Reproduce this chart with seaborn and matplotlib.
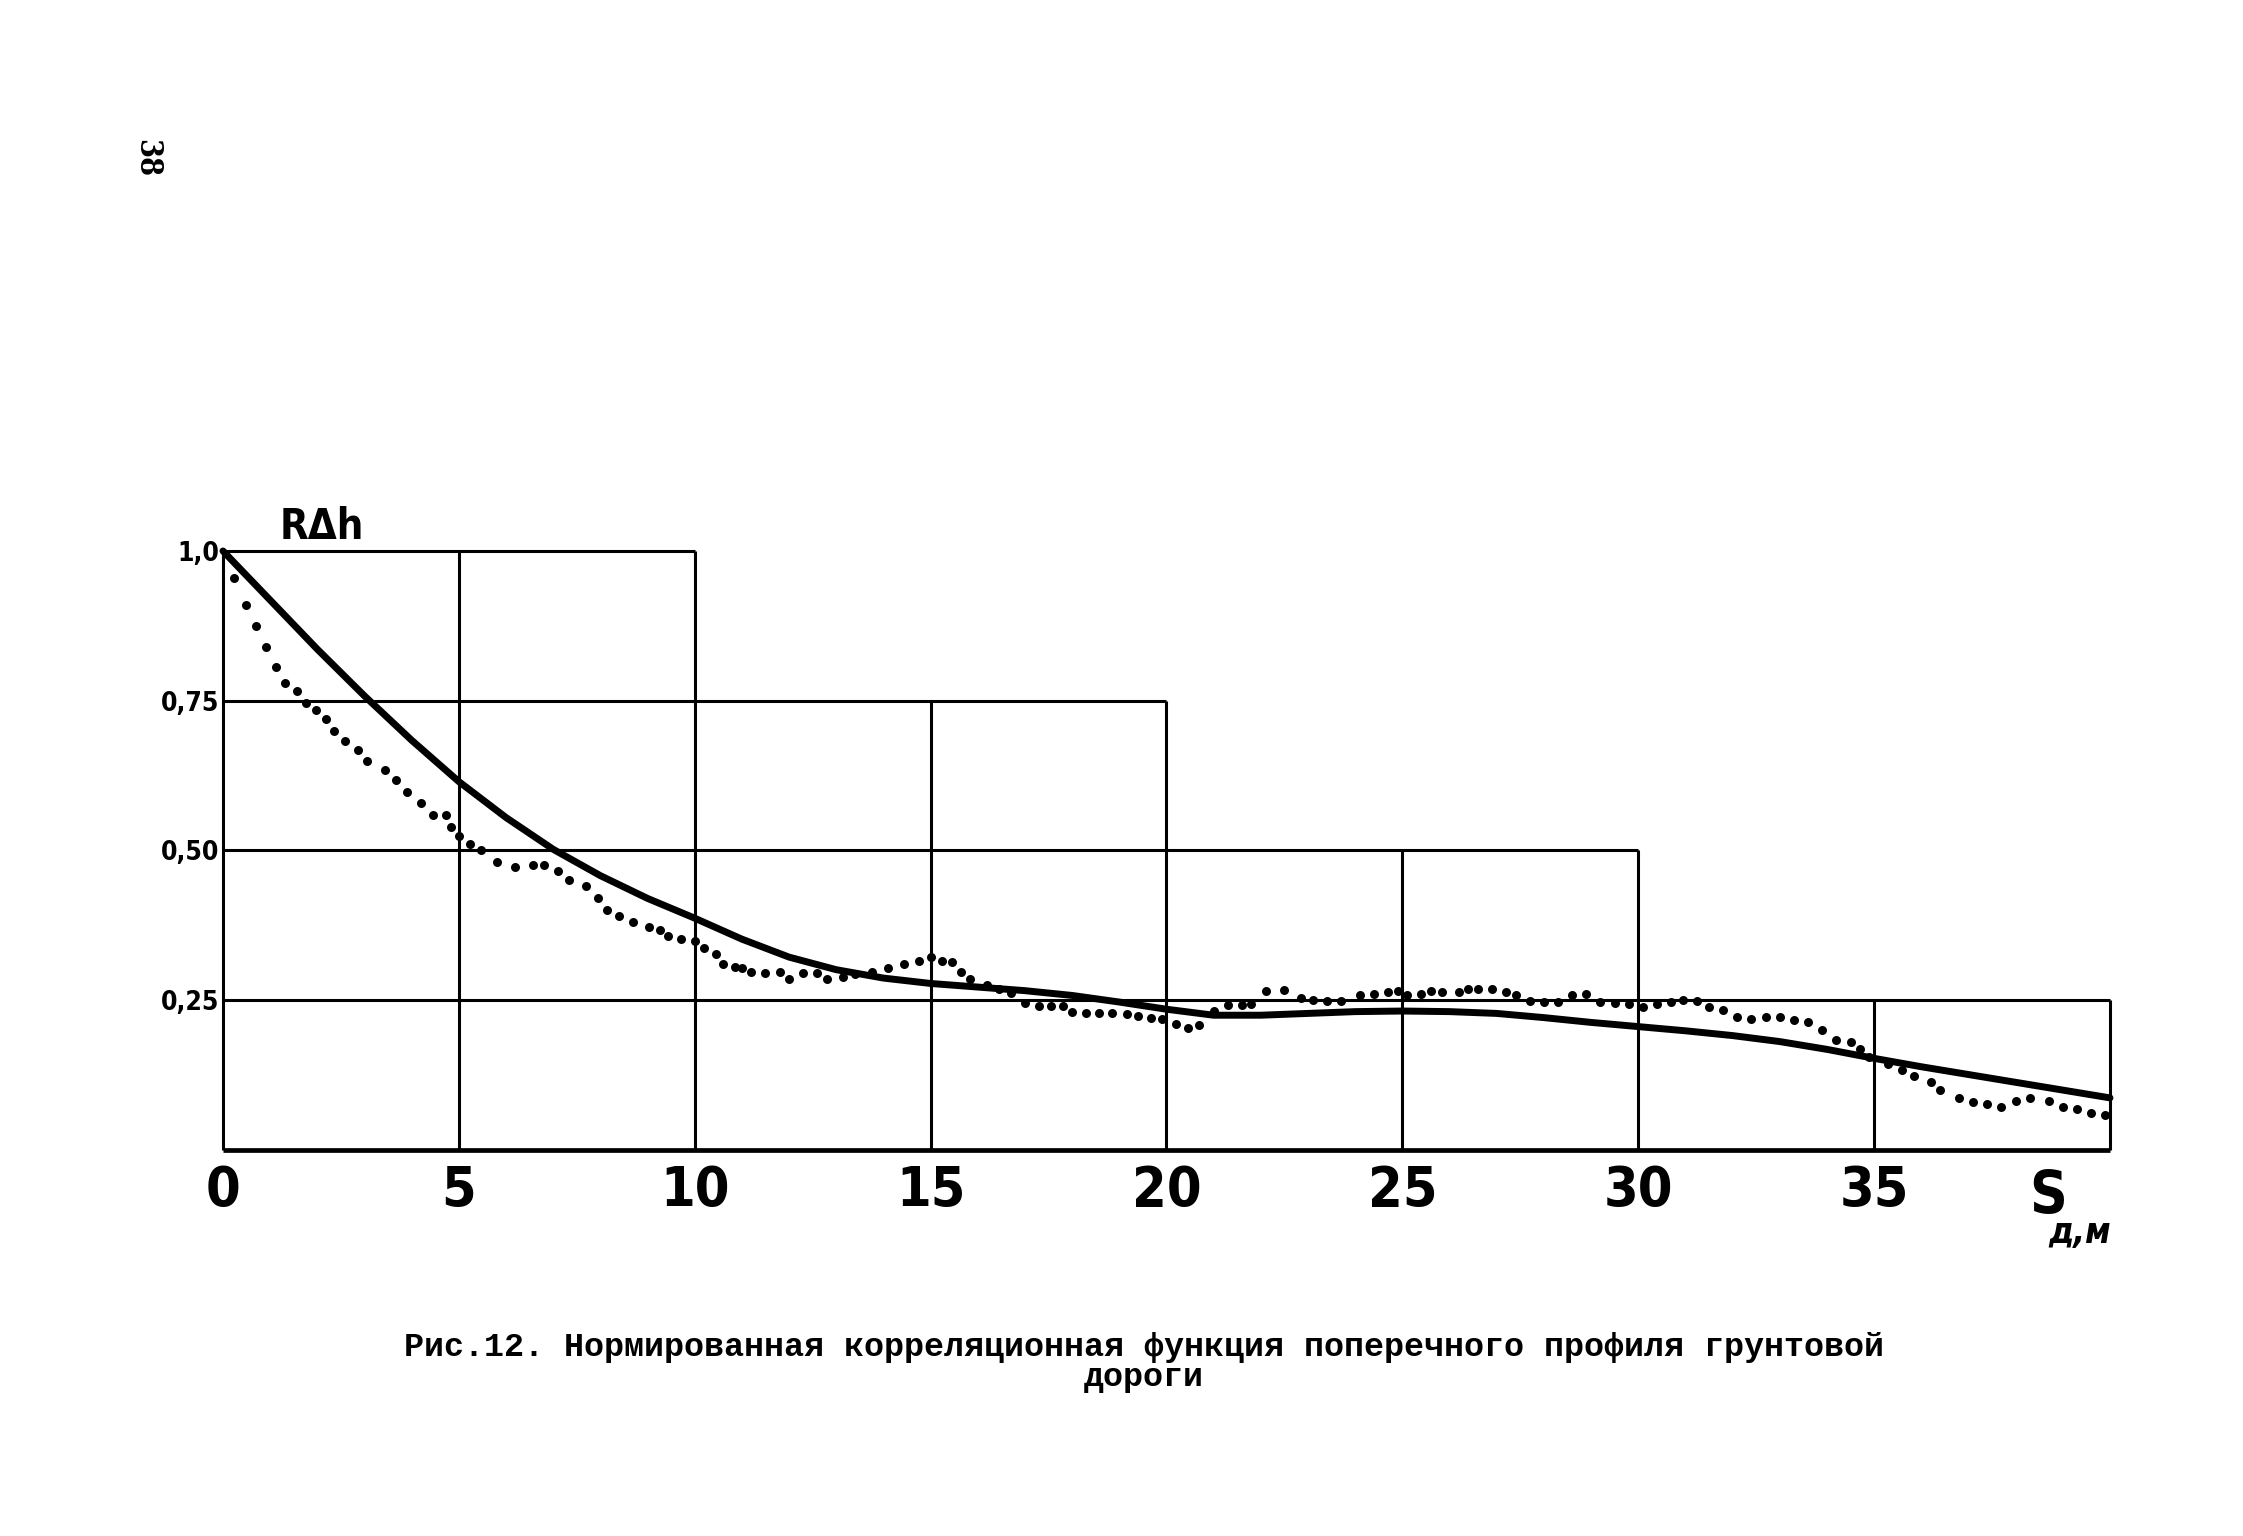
import numpy as np
import pandas as pd
import matplotlib
matplotlib.use('Agg')
import matplotlib.pyplot as plt
import seaborn as sns

# smooth (approximating) correlation function
solid_s = [0, 1, 2, 3, 4, 5, 6, 7, 8, 9, 10, 11, 12, 13, 14, 15, 16, 17, 18, 19, 20,
           21, 22, 23, 24, 25, 26, 27, 28, 29, 30, 31, 32, 33, 34, 35, 36, 37, 38, 39, 40]
solid_r = [1.0, 0.918, 0.836, 0.758, 0.684, 0.615, 0.555, 0.502, 0.458, 0.42, 0.387,
           0.352, 0.322, 0.301, 0.287, 0.278, 0.272, 0.266, 0.258, 0.247, 0.235,
           0.225, 0.225, 0.228, 0.231, 0.232, 0.231, 0.228, 0.221, 0.213, 0.206,
           0.199, 0.191, 0.181, 0.168, 0.153, 0.139, 0.126, 0.113, 0.1, 0.087]

# experimental points
dots_s = [0.24, 0.48, 0.70, 0.91, 1.13, 1.31, 1.57, 1.77, 1.98, 2.18, 2.36, 2.58, 2.86,
          3.06, 3.43, 3.67, 3.91, 4.20, 4.45, 4.72, 4.84, 5.00, 5.24, 5.48, 5.81, 6.20,
          6.57, 6.80, 7.10, 7.34, 7.70, 7.94, 8.15, 8.40, 8.70, 9.03, 9.26, 9.43, 9.70,
          10.0, 10.2, 10.45, 10.6, 10.85, 11.0, 11.2, 11.5, 11.8, 12.0, 12.3, 12.6, 12.8,
          13.15, 13.4, 13.75, 14.1, 14.43, 14.75, 15.0, 15.25, 15.46, 15.64, 15.84, 16.2,
          16.45, 16.7, 17.0, 17.3, 17.56, 17.8, 18.0, 18.3, 18.56, 18.85, 19.17, 19.4,
          19.67, 19.9, 20.2, 20.45, 20.7, 21.0, 21.3, 21.6, 21.8, 22.1, 22.5, 22.85, 23.1,
          23.4, 23.7, 24.1, 24.4, 24.7, 24.9, 25.1, 25.4, 25.6, 25.85, 26.2, 26.4, 26.6,
          26.9, 27.2, 27.4, 27.7, 28.0, 28.3, 28.6, 28.9, 29.2, 29.5, 29.8, 30.1, 30.4,
          30.7, 30.95, 31.25, 31.5, 31.8, 32.1, 32.4, 32.7, 33.0, 33.3, 33.6, 33.9, 34.2,
          34.5, 34.7, 34.9, 35.3, 35.6, 35.85, 36.2, 36.4, 36.8, 37.1, 37.4, 37.7, 38.0,
          38.3, 38.7, 39.0, 39.3, 39.6, 39.9]
dots_r = [0.955, 0.91, 0.874, 0.84, 0.806, 0.78, 0.766, 0.746, 0.735, 0.72, 0.70, 0.683, 0.667,
          0.65, 0.635, 0.618, 0.598, 0.58, 0.56, 0.56, 0.54, 0.525, 0.51, 0.50, 0.48, 0.473,
          0.475, 0.476, 0.465, 0.45, 0.44, 0.42, 0.40, 0.39, 0.38, 0.372, 0.368, 0.357, 0.352,
          0.349, 0.338, 0.327, 0.31, 0.305, 0.303, 0.297, 0.295, 0.297, 0.285, 0.295, 0.295, 0.286,
          0.289, 0.294, 0.297, 0.303, 0.31, 0.315, 0.322, 0.315, 0.314, 0.297, 0.285, 0.275,
          0.268, 0.262, 0.246, 0.241, 0.24, 0.24, 0.23, 0.229, 0.228, 0.229, 0.227, 0.224,
          0.221, 0.218, 0.21, 0.203, 0.208, 0.232, 0.242, 0.242, 0.244, 0.266, 0.267, 0.253, 0.25,
          0.249, 0.249, 0.258, 0.261, 0.264, 0.266, 0.258, 0.261, 0.266, 0.264, 0.264, 0.269, 0.269,
          0.268, 0.264, 0.258, 0.249, 0.247, 0.247, 0.258, 0.261, 0.247, 0.246, 0.243, 0.239, 0.244,
          0.247, 0.25, 0.249, 0.239, 0.233, 0.222, 0.219, 0.222, 0.222, 0.217, 0.214, 0.20, 0.183,
          0.181, 0.169, 0.155, 0.143, 0.133, 0.124, 0.113, 0.10, 0.087, 0.08, 0.077, 0.072, 0.082,
          0.087, 0.082, 0.072, 0.069, 0.062, 0.059]

# stepped grid of the original drawing
grid_x = [0, 5, 10, 15, 20, 25, 30, 35, 40]
grid_x_top = [1.0, 1.0, 1.0, 0.75, 0.75, 0.5, 0.5, 0.25, 0.25]
grid_y = [1.0, 0.75, 0.5, 0.25]
grid_y_right = [10, 20, 30, 40]

x_ticks = [0, 5, 10, 15, 20, 25, 30, 35]
x_labels = ['0', '5', '10', '15', '20', '25', '30', '35']
y_ticks = [1.0, 0.75, 0.5, 0.25]
y_labels = ['1,0', '0,75', '0,50', '0,25']

caption = ('Рис.12. Нормированная корреляционная функция поперечного профиля грунтовой\n'
           'дороги')

sns.set_style('white')
plt.rcParams['font.family'] = ['DejaVu Sans']
plt.rcParams['font.stretch'] = 'condensed'
plt.rcParams['text.color'] = 'black'
plt.rcParams['xtick.color'] = 'black'
plt.rcParams['ytick.color'] = 'black'

fig = plt.figure(figsize=(22.43, 15.36), dpi=100)
ax = fig.add_axes([0.0994, 0.2513, 0.8413, 0.39])

ax.vlines(grid_x, 0, grid_x_top, color='black', lw=2.2, clip_on=False)
ax.hlines(grid_y, 0, grid_y_right, color='black', lw=2.2, clip_on=False)
ax.hlines(0, 0, 40, color='black', lw=3.4, clip_on=False)

df_s = pd.DataFrame({'s': solid_s, 'r': solid_r})
df_d = pd.DataFrame({'s': dots_s, 'r': dots_r})
sns.lineplot(data=df_s, x='s', y='r', ax=ax, color='black', lw=5, clip_on=False)
sns.scatterplot(data=df_d, x='s', y='r', ax=ax, color='black', s=42, linewidth=0,
                clip_on=False)

ax.set_xlim(0, 40)
ax.set_ylim(0, 1.0)
for sp in ax.spines.values():
    sp.set_visible(False)
ax.set_xlabel('')
ax.set_ylabel('')
ax.set_xticks(x_ticks)
ax.set_xticklabels(x_labels, fontsize=40, fontweight='bold', fontstretch='condensed')
ax.set_yticks(y_ticks)
ax.set_yticklabels(y_labels, fontsize=19, fontweight='bold', fontstretch='condensed')
ax.tick_params(axis='x', length=0, pad=10)
ax.tick_params(axis='y', length=0, pad=3)

ax.text(1.2, 1.005, 'RΔh', fontsize=30, fontweight='bold', va='bottom', ha='left')
ax.text(38.7, -0.03, 'S', fontsize=42, fontweight='bold', va='top', ha='center',
        clip_on=False)
ax.text(39.35, -0.11, 'д,м', fontsize=25, fontweight='bold', style='italic',
        va='top', ha='center', clip_on=False)

fig.text(0.51, 0.113, caption, fontsize=24, fontweight='bold', ha='center', va='center',
         family=['Liberation Mono', 'DejaVu Sans Mono'], linespacing=0.95)
fig.text(0.0655, 0.897, '38', fontsize=22, fontweight='bold', rotation=-90,
         ha='center', va='center', family=['DejaVu Serif'])

fig.savefig('out.png', dpi=100)
